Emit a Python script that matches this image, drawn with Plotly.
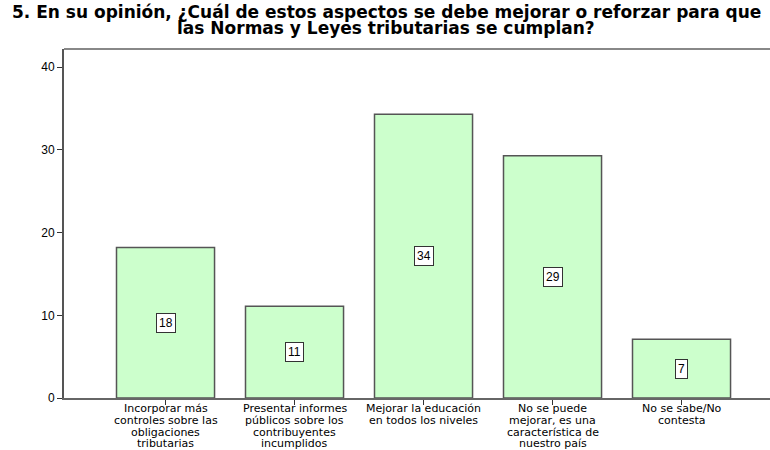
import plotly.graph_objects as go

categories = [
    "Incorporar más<br>controles sobre las<br>obligaciones<br>tributarias",
    "Presentar informes<br>públicos sobre los<br>contribuyentes<br>incumplidos",
    "Mejorar la educación<br>en todos los niveles",
    "No se puede<br>mejorar, es una<br>característica de<br>nuestro país",
    "No se sabe/No<br>contesta",
]
values = [18.2, 11.1, 34.3, 29.3, 7.1]
labels = ["18", "11", "34", "29", "7"]
y_ticks = [0, 10, 20, 30, 40]

title_lines = [
    "5. En su opinión, ¿Cuál de estos aspectos se debe mejorar o reforzar para que",
    "las Normas y Leyes tributarias se cumplan?",
]

FONT = "Liberation Sans, Arial"
xpos = list(range(len(categories)))

fig = go.Figure()
fig.add_trace(go.Bar(
    x=xpos, y=values, width=0.76,
    marker=dict(color="#ccffcc", line=dict(color="#555555", width=1.5)),
    hoverinfo="skip",
))

# value labels in boxes
for xi, v, t in zip(xpos, values, labels):
    fig.add_annotation(
        x=xi, y=v / 2, text=t, showarrow=False,
        font=dict(family=FONT, size=12, color="black"),
        bgcolor="white", bordercolor="#333333", borderwidth=1, borderpad=2,
    )

# category labels, tight line spacing
for xi, cat in zip(xpos, categories):
    for k, line in enumerate(cat.split("<br>")):
        fig.add_annotation(
            x=xi, xref="x", y=0, yref="paper", yanchor="top",
            yshift=-2 - 11.8 * k, text=line, showarrow=False,
            font=dict(family="DejaVu Sans", size=11, color="black"),
        )

# title
for k, line in enumerate(title_lines):
    fig.add_annotation(
        x=(386 - 64) / 706, xref="paper", y=1, yref="paper", yanchor="middle",
        yshift=37 - 16 * k, text="<b>" + line + "</b>", showarrow=False,
        font=dict(family="DejaVu Sans", size=17, color="black"),
    )

fig.update_layout(
    width=770, height=450,
    margin=dict(l=64, r=0, t=49, b=52),
    paper_bgcolor="white", plot_bgcolor="white",
    showlegend=False,
    font=dict(family=FONT, size=11, color="black"),
)
fig.update_xaxes(
    range=[-0.787, -0.787 + 706 / 129],
    tickmode="array", tickvals=xpos, showticklabels=False,
    ticks="outside", ticklen=5, tickcolor="#333333", tickwidth=1,
    showline=True, linecolor="#666666", linewidth=2,
    showgrid=False, zeroline=False, automargin=False,
)
fig.update_yaxes(
    range=[0, 42.2],
    tickmode="array", tickvals=y_ticks,
    ticks="outside", ticklen=5, tickcolor="#333333", tickwidth=1,
    showline=True, linecolor="#555555", linewidth=2,
    showgrid=False, zeroline=False, automargin=False,
    tickfont=dict(family=FONT, size=12, color="black"),
)
# top frame line
fig.add_shape(type="line", xref="paper", yref="paper", x0=0, x1=1, y0=1, y1=1,
              line=dict(color="#888888", width=2))

fig.write_html("out.html", config={"displayModeBar": False},
               post_script="document.body.style.margin='0';")
